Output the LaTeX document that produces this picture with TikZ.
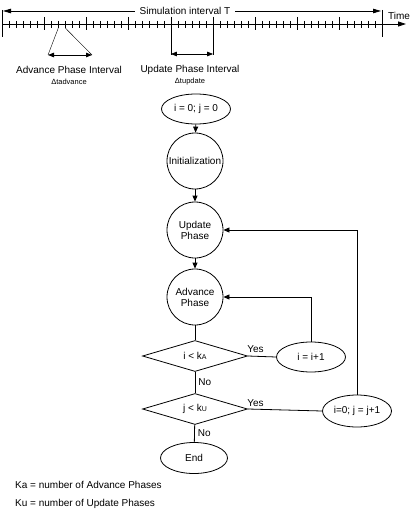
\documentclass[tikz,border=0pt]{standalone}
\usepackage{fontspec}
\setmainfont{Liberation Sans}
\usetikzlibrary{shapes.geometric,arrows.meta}
\begin{document}
\begin{tikzpicture}[x=1pt,y=-1pt,
  every node/.style={font=\fontsize{10}{11}\selectfont, inner sep=0pt},
  line/.style={line width=0.8pt},
  tip/.style={-{Triangle[length=6pt,width=5pt]}},
  both/.style={{Triangle[length=6pt,width=4.5pt]}-{Triangle[length=6pt,width=4.5pt]}},
  circ/.style={circle, draw, line width=0.8pt, minimum size=56pt, align=center},
  ell/.style={ellipse, draw, line width=0.8pt, minimum width=69pt, minimum height=30pt},
  dia/.style={diamond, draw, line width=0.8pt, minimum width=105pt, minimum height=31pt, aspect=3},
  small/.style={font=\fontsize{7.5}{9}\selectfont},
]
\useasboundingbox (0,0) rectangle (417,516);

% ---------- time line ----------
\coordinate (t0) at (2,24);
\coordinate (tend) at (406,24);
\draw[line, -{Triangle[length=8pt,width=5pt]}] (t0) -- (tend);
\node (time) at (399,16) {Time};
\foreach \k in {0,...,54}{\draw[line width=0.6pt] ({2+\k*7.037},21) -- ++(0,7);}
\foreach \k in {1,...,8}{\draw[line width=0.6pt] ({2+\k*42.222},17) -- ++(0,13);}
\draw[line] (2,10) -- (2,37);
\draw[line] (382,10) -- (382,37);

\coordinate (sa) at (3,11);
\coordinate (sb) at (381,11);
\draw[line, {Triangle[length=8pt,width=4.5pt]}-{Triangle[length=8pt,width=4.5pt]}] (sa) -- (sb);
\node[fill=white, inner xsep=5pt, inner ysep=1pt] (sim) at (185,11) {Simulation interval T};

% update interval
\coordinate (u1) at (170.9,17);
\coordinate (u2) at (213.1,17);
\coordinate (u1b) at (170.9,55);
\coordinate (u2b) at (213.1,55);
\draw[line] (u1) -- (u1b);
\draw[line] (u2) -- (u2b);
\draw[line, both] (170.9,54) -- (213.1,54);
\node (upl) at (190,70) {Update Phase Interval};
\node[small] (upd2) at (190,82) {Δtupdate};

% advance interval
\coordinate (a1) at (58.3,28);
\coordinate (a2) at (65.3,28);
\coordinate (a1b) at (48,55);
\coordinate (a2b) at (92,55);
\draw[line width=0.4pt] (a1) -- (a1b);
\draw[line width=0.4pt] (a2) -- (a2b);
\draw[line, both] (a1b) -- (a2b);
\node (advl) at (69,70) {Advance Phase Interval};
\node[small] (adv2) at (69,82) {Δtadvance};

% ---------- flowchart ----------
\node[ell] (start) at (196,109) {i = 0; j = 0};
\node[circ] (init) at (195,161) {Initialization};
\node[circ] (upd) at (195,230) {Update\\Phase};
\node[circ] (adv) at (195,297) {Advance\\Phase};
\node[dia] (d1) at (195,356) {i < k{\fontsize{7}{8}\selectfont A}};
\node[dia] (d2) at (195,409) {j < k{\fontsize{7}{8}\selectfont U}};
\node[ell, minimum width=67pt, minimum height=31pt] (end) at (194,458) {End};
\node[ell] (inc1) at (311,357) {i = i+1};
\node[ell, minimum height=32pt] (inc2) at (357,411) {i=0; j = j+1};

\draw[line, tip] (start) -- (init);
\draw[line, tip] (init) -- (upd);
\draw[line, tip] (upd) -- (adv);
\draw[line] (adv) -- (d1);
\draw[line] (d1) -- node[midway, anchor=west, xshift=3pt] (no1) {No} (d2);
\draw[line] (d2) -- node[midway, anchor=west, xshift=3pt] (no2) {No} (end);
\draw[line] (d1.east) -- (inc1.west);
\draw[line] (d2.east) -- (inc2.west);
\node (yes1) at (255.5,349) {Yes};
\node (yes2) at (255.5,403) {Yes};
\draw[line, tip] (inc1.north) |- (adv.east);
\draw[line, tip] (inc2.north) |- (upd.east);

% ---------- legend ----------
\node[anchor=west] (ka) at (15,485) {Ka = number of Advance Phases};
\node[anchor=west] (ku) at (15,504) {Ku = number of Update Phases};
\end{tikzpicture}
\end{document}
